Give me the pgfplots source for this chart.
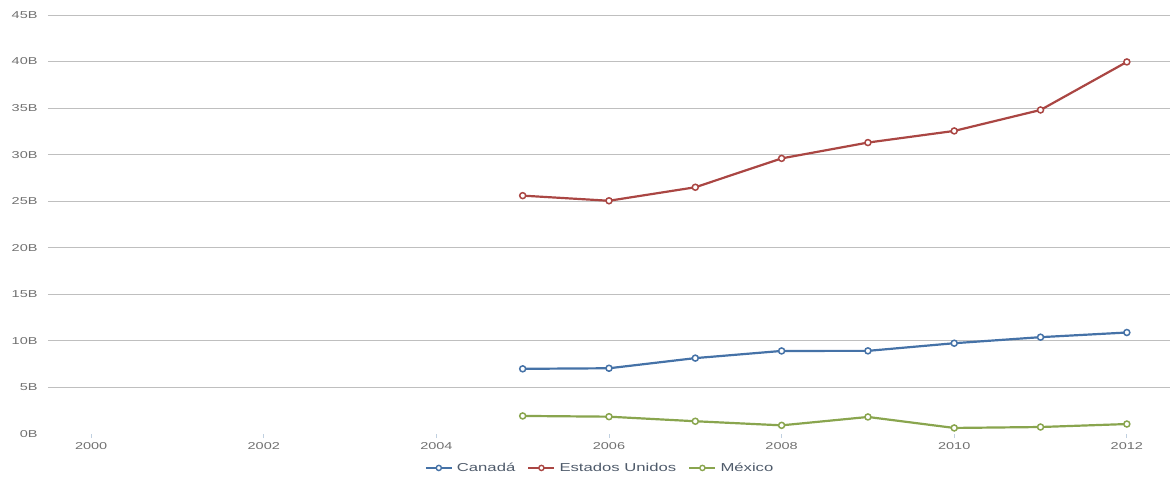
\documentclass[border=0pt]{standalone}
\usepackage{pgfplots}
\pgfplotsset{compat=1.18}
\usepackage{fontspec}
\setmainfont[FakeStretch=1.45]{Liberation Sans}
\definecolor{cblue}{HTML}{4572A7}
\definecolor{cred}{HTML}{AA4643}
\definecolor{cgreen}{HTML}{89A54E}
\definecolor{grid}{HTML}{C8C8C8}
\definecolor{tickc}{HTML}{C0D0E0}
\definecolor{lab}{HTML}{707070}
\definecolor{leg}{HTML}{4F5B6B}
\begin{document}
\begin{tikzpicture}
\begin{axis}[
  at={(0,0)}, anchor=origin,
  scale only axis, width=1122pt, height=419pt,
  xmin=1999.5, xmax=2012.5, ymin=0, ymax=45,
  axis line style={draw=none},
  xtick={2000,2002,...,2012},
  ytick={5,10,...,45},
  extra y ticks={0},
  extra y tick style={ymajorgrids=false, xmajorgrids=false},
  yticklabel={\pgfmathprintnumber{\tick}B},
  xticklabel style={/pgf/number format/1000 sep={}},
  /pgf/number format/assume math mode=true,
  xmajorgrids=false, ymajorgrids=true, major grid style={grid, line width=0.9pt},
  tick label style={font=\fontsize{10}{12}\selectfont, text=lab},
  xtick pos=bottom, ytick style={draw=none},
  xtick style={draw=tickc, line width=0.9pt},
  major tick length=4pt, tick align=outside,
  xticklabel style={yshift=-1pt},
  yticklabel style={xshift=-3pt},
  clip=false,
  legend style={at={(0.492,-0.081)}, anchor=center, draw=none, fill=none, legend columns=-1,
    font=\fontsize{11.5}{14}\selectfont, text=leg,
    /tikz/every odd column/.append style={column sep=2pt},
    /tikz/every even column/.append style={column sep=10pt}},
  legend image code/.code={\draw[#1, line width=2.2pt] (0pt,0pt) -- (26pt,0pt);
     \draw[#1, line width=1.4pt, fill=white] (13pt,0pt) circle (2.6pt);},
  every axis plot/.append style={line width=2.2pt, mark=*, mark size=3pt,
     mark options={fill=white, line width=1.5pt}},
]
\addplot[cblue] coordinates {(2005,7.0) (2006,7.06) (2007,8.15) (2008,8.92) (2009,8.93) (2010,9.75) (2011,10.4) (2012,10.9)};
\addlegendentry{Canadá}
\addplot[cred] coordinates {(2005,25.6) (2006,25.05) (2007,26.5) (2008,29.6) (2009,31.3) (2010,32.55) (2011,34.8) (2012,39.96)};
\addlegendentry{Estados Unidos}
\addplot[cgreen] coordinates {(2005,1.94) (2006,1.86) (2007,1.37) (2008,0.93) (2009,1.83) (2010,0.65) (2011,0.75) (2012,1.07)};
\addlegendentry{México}
\end{axis}
\pgfresetboundingbox
\path (-48pt,-43pt) rectangle (1122pt,434pt);
\end{tikzpicture}
\end{document}
